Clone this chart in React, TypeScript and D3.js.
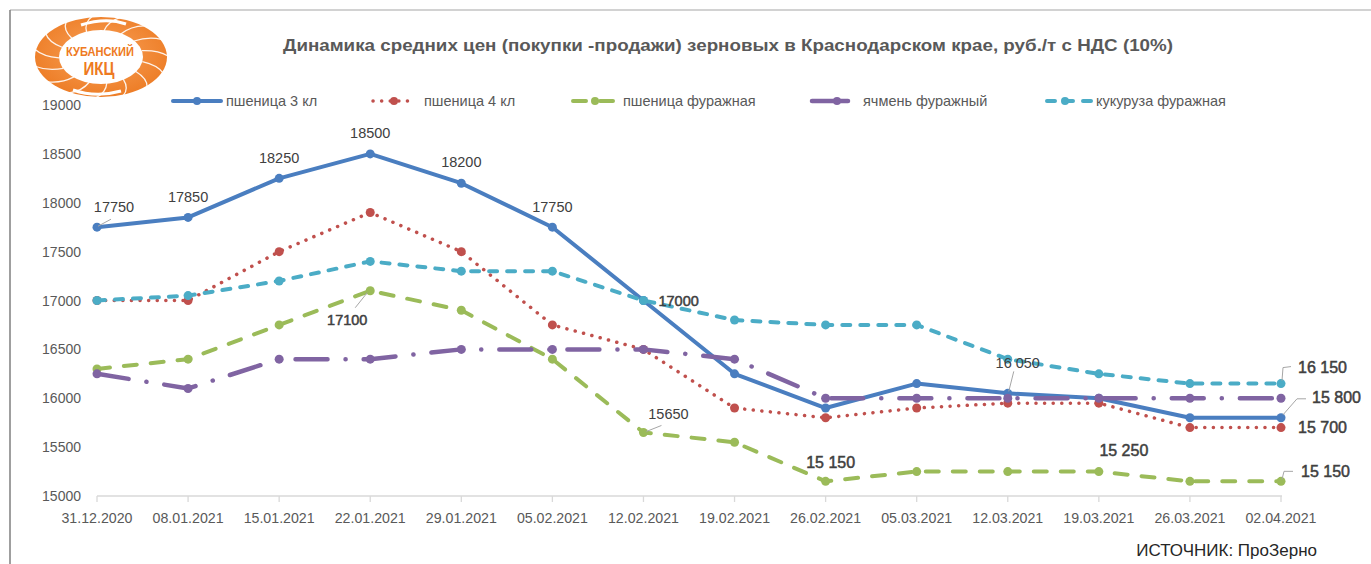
import React from 'react';
import * as d3 from 'd3';

// values
const dates = ['31.12.2020', '08.01.2021', '15.01.2021', '22.01.2021', '29.01.2021', '05.02.2021', '12.02.2021',
    '19.02.2021', '26.02.2021', '05.03.2021', '12.03.2021', '19.03.2021', '26.03.2021', '02.04.2021'];
const wheat3 = [17750, 17850, 18250, 18500, 18200, 17750, 17000, 16250, 15900, 16150, 16050, 16000, 15800, 15800];
const wheat4 = [17000, 17000, 17500, 17900, 17500, 16750, 16500, 15900, 15800, 15900, 15950, 15950, 15700, 15700];
const wheatFeed = [16300, 16400, 16750, 17100, 16900, 16400, 15650, 15550, 15150, 15250, 15250, 15250, 15150, 15150];
const barleyFeed = [16250, 16100, 16400, 16400, 16500, 16500, 16500, 16400, 16000, 16000, 16000, 16000, 16000, 16000];
const cornFeed = [17000, 17050, 17200, 17400, 17300, 17300, 17000, 16800, 16750, 16750, 16400, 16250, 16150, 16150];
const yTicks = [15000, 15500, 16000, 16500, 17000, 17500, 18000, 18500, 19000];

const FONT = '"Liberation Sans", Arial, sans-serif';

const series = [
    { name: 'пшеница 3 кл', values: wheat3, color: '#4A7EC0', width: 4, dash: null, legend: [173, 221, 197, 226] },
    { name: 'пшеница 4 кл', values: wheat4, color: '#C0504D', width: 3.5, dash: '0.1 8.5', legend: [373, 413, 394, 424] },
    { name: 'пшеница фуражная', values: wheatFeed, color: '#9BBB59', width: 4, dash: '13 14', legend: [573, 619, 595, 623] },
    { name: 'ячмень фуражный', values: barleyFeed, color: '#8064A2', width: 4.5, dash: '32 18 0.1 18', legend: [812, 848, 837, 863] },
    { name: 'кукуруза фуражная', values: cornFeed, color: '#4BACC6', width: 4, dash: '8 10', legend: [1047, 1093, 1065, 1096] },
];

// data labels: series index, point index, text, offset of the label from the point, leader line
const labels = [
    { s: 0, i: 0, text: '17750', dx: 17, dy: -20, anchor: 'middle', bold: false, leader: [[1, -1], [14, -8]] },
    { s: 0, i: 1, text: '17850', dx: 0, dy: -20, anchor: 'middle', bold: false, leader: null },
    { s: 0, i: 2, text: '18250', dx: 0, dy: -20, anchor: 'middle', bold: false, leader: null },
    { s: 0, i: 3, text: '18500', dx: 0, dy: -21, anchor: 'middle', bold: false, leader: null },
    { s: 0, i: 4, text: '18200', dx: 0, dy: -21, anchor: 'middle', bold: false, leader: null },
    { s: 0, i: 5, text: '17750', dx: 0, dy: -20, anchor: 'middle', bold: false, leader: null },
    { s: 4, i: 6, text: '17000', dx: 15, dy: 0, anchor: 'start', bold: true, leader: null },
    { s: 2, i: 3, text: '17100', dx: -23, dy: 29, anchor: 'middle', bold: true, leader: [[-3, 2], [-15, 17]] },
    { s: 2, i: 6, text: '15650', dx: 25, dy: -19, anchor: 'middle', bold: false, leader: [[3, -1], [18, -7]] },
    { s: 2, i: 8, text: '15 150', dx: 5, dy: -19, anchor: 'middle', bold: true, leader: null },
    { s: 0, i: 10, text: '16 050', dx: 10, dy: -30, anchor: 'middle', bold: false, leader: [[1, -2], [6, -22]] },
    { s: 2, i: 11, text: '15 250', dx: 25, dy: -21, anchor: 'middle', bold: true, leader: null },
    { s: 4, i: 13, text: '16 150', dx: 17, dy: -16, anchor: 'start', bold: true, leader: [[1, -3], [2, -16], [10, -17]] },
    { s: 0, i: 13, text: '15 800', dx: 31, dy: -20, anchor: 'start', bold: true, leader: [[2, -3], [16, -19], [25, -19]] },
    { s: 1, i: 13, text: '15 700', dx: 17, dy: 0, anchor: 'start', bold: true, leader: null },
    { s: 2, i: 13, text: '15 150', dx: 20, dy: -10, anchor: 'start', bold: true, leader: [[1, -2], [3, -10], [12, -10]] },
];

const Logo = () => {
    const cx = 101, cy = 57;
    const spokes = d3.range(10, 370, 24);
    return (
        <g>
            <defs>
                <radialGradient id="lg" cx="50%" cy="45%" r="60%">
                    <stop offset="0%" stopColor="#F9A25A" />
                    <stop offset="100%" stopColor="#EC7A22" />
                </radialGradient>
            </defs>
            <ellipse cx={cx} cy={cy} rx={66} ry={40} fill="url(#lg)" />
            {spokes.map(a => {
                const r = (a * Math.PI) / 180;
                return (
                    <path key={a}
                        d={`M${cx + Math.cos(r) * 42},${cy + Math.sin(r) * 26} Q${cx + Math.cos(r + 0.05) * 58},${cy + Math.sin(r + 0.05) * 36} ${cx + Math.cos(r + 0.22) * 67},${cy + Math.sin(r + 0.22) * 41}`}
                        stroke="#fff" strokeWidth={1.3} fill="none" opacity={0.9} />
                );
            })}
            <ellipse cx={cx} cy={cy} rx={42} ry={27} fill="#fff" />
            <path d={`M${cx - 20},${cy - 32} Q${cx + 5},${cy - 40} ${cx + 25},${cy - 33}`} stroke="#fff" strokeWidth={3} fill="none" />
            <path d={`M${cx + 20},${cy + 34} Q${cx - 5},${cy + 41} ${cx - 28},${cy + 33}`} stroke="#fff" strokeWidth={3} fill="none" />
            <text x={cx - 1} y={cy - 1} textAnchor="middle" fontFamily='"Liberation Sans Narrow", "Liberation Sans", sans-serif'
                fontWeight="bold" fontSize={13} fill="#EE7A22" textLength={68} lengthAdjust="spacingAndGlyphs">КУБАНСКИЙ</text>
            <text x={cx - 2} y={cy + 18} textAnchor="middle" fontFamily='"Liberation Sans Narrow", "Liberation Sans", sans-serif'
                fontWeight="bold" fontSize={18} fill="#EE7A22" textLength={31} lengthAdjust="spacingAndGlyphs">ИКЦ</text>
        </g>
    );
};

export default function App() {
    const W = 1371, H = 564;
    const x = d3.scalePoint().domain(dates).range([97, 1281]);
    const y = d3.scaleLinear().domain([15000, 19000]).range([496, 105]);
    const line = d3.line<number>().x((_, i) => x(dates[i])!).y(d => y(d));

    return (
        <svg width={W} height={H} style={{ position: 'absolute', left: 0, top: 0, background: '#fff' }} fontFamily={FONT}>
            <rect width={W} height={H} fill="#fff" />
            <line x1={10} x2={W} y1={10} y2={10} stroke="#A6A6A6" strokeWidth={1.2} />
            <line x1={10} x2={10} y1={10} y2={H} stroke="#7F7F7F" strokeWidth={1.5} />

            <Logo />

            <text x={728} y={51} textAnchor="middle" fontWeight="bold" fontSize={17} fill="#595959"
                textLength={890} lengthAdjust="spacingAndGlyphs">
                Динамика средних цен (покупки -продажи) зерновых в Краснодарском крае, руб./т с НДС (10%)
            </text>

            {/* legend */}
            {series.map(s => (
                <g key={s.name}>
                    <line x1={s.legend[0]} x2={s.legend[1]} y1={101} y2={101} stroke={s.color} strokeWidth={s.width}
                        strokeDasharray={s.name === 'ячмень фуражный' ? undefined : s.dash ?? undefined} strokeLinecap="round" />
                    <circle cx={s.legend[2]} cy={101} r={4} fill={s.color} />
                    <text x={s.legend[3]} y={106} fontSize={14.5} fill="#595959">{s.name}</text>
                </g>
            ))}

            {/* y axis labels */}
            {yTicks.map(t => (
                <text key={t} x={81} y={y(t) + 5} textAnchor="end" fontSize={14} fill="#595959">{t}</text>
            ))}

            {/* x axis */}
            <line x1={97} x2={1282} y1={496} y2={496} stroke="#D9D9D9" strokeWidth={1.3} />
            {dates.map(d => (
                <g key={d}>
                    <line x1={x(d)} x2={x(d)} y1={496} y2={502} stroke="#D9D9D9" strokeWidth={1.3} />
                    <text x={x(d)} y={523} textAnchor="middle" fontSize={14.2} fill="#595959">{d}</text>
                </g>
            ))}

            {/* series */}
            {series.map(s => (
                <g key={s.name}>
                    <path d={line(s.values)!} fill="none" stroke={s.color} strokeWidth={s.width}
                        strokeDasharray={s.dash ?? undefined} strokeLinecap="round" strokeLinejoin="round" />
                    {s.values.map((v, i) => (
                        <circle key={i} cx={x(dates[i])} cy={y(v)} r={4.5} fill={s.color} />
                    ))}
                </g>
            ))}

            {/* data labels */}
            {labels.map((l, k) => {
                const px = x(dates[l.i])!;
                const py = y(series[l.s].values[l.i]);
                return (
                    <g key={k}>
                        {l.leader && (
                            <polyline points={l.leader.map(p => `${px + p[0]},${py + p[1]}`).join(' ')}
                                fill="none" stroke="#A6A6A6" strokeWidth={1} />
                        )}
                        <text x={px + l.dx} y={py + l.dy} dy="0.35em" textAnchor={l.anchor}
                            fontSize={l.bold && l.text.includes(' ') ? 16 : 14.5}
                            stroke={l.bold ? '#404040' : 'none'} strokeWidth={0.5}
                            fill="#404040">{l.text}</text>
                    </g>
                );
            })}

            <text x={1317} y={556} textAnchor="end" fontSize={17} fill="#262626">ИСТОЧНИК: ПроЗерно</text>
        </svg>
    );
}
